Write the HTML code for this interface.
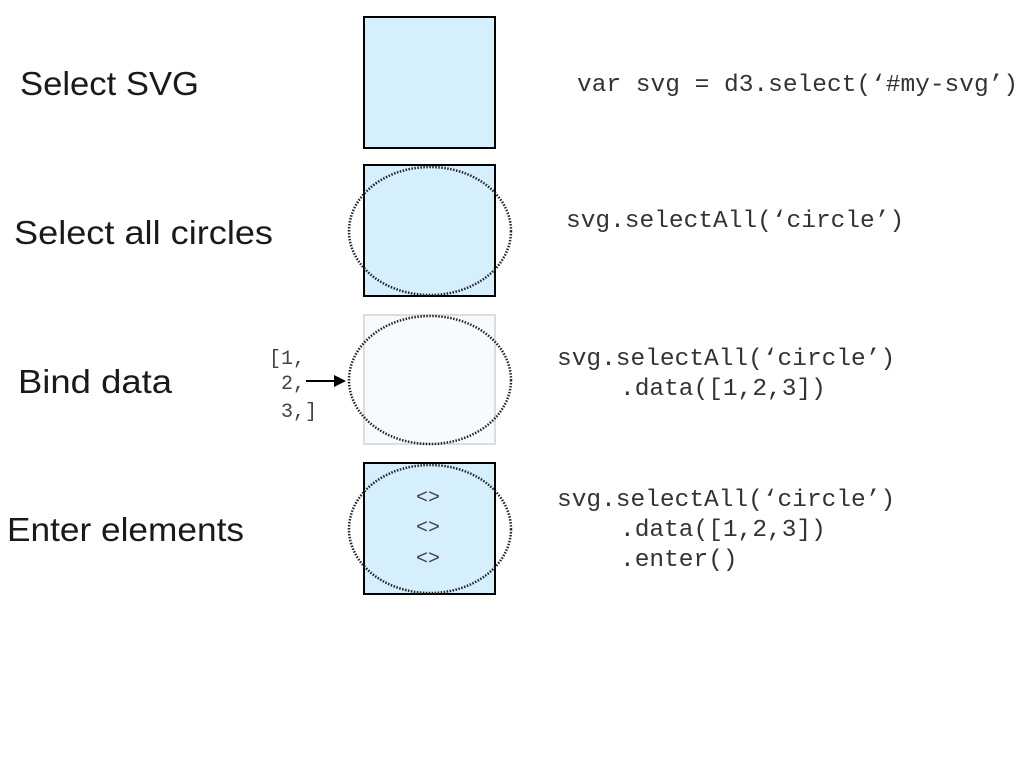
<!DOCTYPE html>
<html><head><style>html,body{margin:0;padding:0;background:#fff}svg{display:block}</style></head>
<body>
<svg width="1024" height="768" viewBox="0 0 1024 768" xmlns="http://www.w3.org/2000/svg">
<defs><marker id="a" markerWidth="6" markerHeight="6" refX="5" refY="3" orient="auto"><path d="M0,0 L6,3 L0,6 z" fill="#000"/></marker></defs>
<g font-family="Liberation Sans, sans-serif" font-size="33" fill="#1a1a1a">
<text x="20" y="95" textLength="179" lengthAdjust="spacingAndGlyphs">Select SVG</text>
<text x="14" y="244" textLength="259" lengthAdjust="spacingAndGlyphs">Select all circles</text>
<text x="18" y="393" textLength="154" lengthAdjust="spacingAndGlyphs">Bind data</text>
<text x="7" y="541" textLength="237" lengthAdjust="spacingAndGlyphs">Enter elements</text>
</g>
<rect x="364" y="17" width="131" height="131" fill="#d6effc" stroke="#000" stroke-width="2"/>
<rect x="364" y="165" width="131" height="131" fill="#d6effc" stroke="#000" stroke-width="2"/>
<rect x="364" y="315" width="131" height="129" fill="#f6fbfe" stroke="#ddd" stroke-width="2"/>
<rect x="364" y="463" width="131" height="131" fill="#d6effc" stroke="#000" stroke-width="2"/>
<g fill="none" stroke="#222" stroke-width="2.5" stroke-dasharray="1.5 1.5">
<ellipse cx="430" cy="231" rx="81" ry="64"/>
<ellipse cx="430" cy="380" rx="81" ry="64"/>
<ellipse cx="430" cy="529" rx="81" ry="64"/>
</g>
<g font-family="Liberation Mono, monospace" font-size="20" fill="#444">
<text x="269" y="364">[1,</text>
<text x="281" y="389">2,</text>
<text x="281" y="417">3,]</text>
<text x="416" y="503" font-size="20">&lt;&gt;</text>
<text x="416" y="533" font-size="20">&lt;&gt;</text>
<text x="416" y="564" font-size="20">&lt;&gt;</text>
</g>
<line x1="306" y1="381" x2="344" y2="381" stroke="#000" stroke-width="2" marker-end="url(#a)"/>
<g font-family="Liberation Mono, monospace" font-size="24.5" fill="#333">
<text x="577" y="91">var svg = d3.select(‘#my-svg’)</text>
<text x="566" y="227">svg.selectAll(‘circle’)</text>
<text x="557" y="365">svg.selectAll(‘circle’)</text>
<text x="620" y="395">.data([1,2,3])</text>
<text x="557" y="506">svg.selectAll(‘circle’)</text>
<text x="620" y="536">.data([1,2,3])</text>
<text x="620" y="566">.enter()</text>
</g>
</svg>
</body></html>
